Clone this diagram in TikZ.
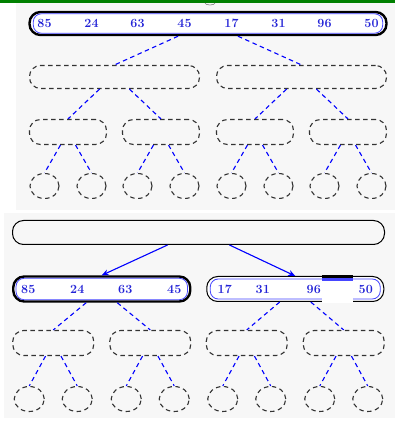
\documentclass[tikz,border=0pt]{standalone}
\usepackage{tikz}
\usetikzlibrary{trees, calc, shapes.geometric, arrows.meta}
\usepackage{xcolor}
\definecolor{numblue}{RGB}{35,35,215}
\definecolor{ringblue}{RGB}{70,70,255}
\definecolor{panelgray}{RGB}{247,247,247}
\definecolor{bargreen}{RGB}{0,128,0}
\tikzset{
    every node/.style = {inner sep=0pt},
    dashbox/.style = {draw=black!80, dash pattern=on 4.5pt off 3.5pt, line width=1.1pt, rounded corners=11pt, minimum height=23pt},
    leaf/.style = {draw=black!80, dash pattern=on 4.5pt off 3.5pt, line width=1.1pt, shape=ellipse, minimum width=29pt, minimum height=25pt},
    solidbox/.style = {draw=black, rounded corners=11pt, line width=1pt},
    ring/.style = {draw=ringblue, line width=0.8pt, rounded corners=8pt},
    num/.style = {text=numblue, font=\fontsize{12.5}{14}\selectfont\bfseries},
    dashedge/.style = {draw, color=blue, dash pattern=on 4.5pt off 3.5pt, line width=1.1pt},
    arrowedge/.style = {draw, color=blue, line width=1.1pt, -{Stealth[length=7pt, width=6pt]}},
    edge from parent path = {($(\tikzparentnode.south)!.32!(\tikzparentnode.south -| \tikzchildnode.north)$) -- (\tikzchildnode.north)}
}

\begin{document}
\begin{tikzpicture}[x=1pt, y=1pt]
    \useasboundingbox (0,0) rectangle (409,428);
    \fill[panelgray] (16,218) rectangle (395,425);
    \fill[panelgray] (4,10) rectangle (395,215);
    \fill[bargreen] (0,425) rectangle (395,428);
    \draw[black!50, line width=0.6pt] (205,425) arc[start angle=180, end angle=360, x radius=5, y radius=2];

    \begin{scope}[
        level 1/.style = {level distance=53.5pt, sibling distance=187pt, edge from parent/.style=dashedge},
        level 2/.style = {level distance=55pt, sibling distance=93pt},
        level 3/.style = {level distance=54pt, sibling distance=47pt}]
        \node[solidbox, fill=white, line width=2.4pt, minimum width=357pt, minimum height=23pt] (top) at (208,404.5) {}
            child foreach \a in {1,2} {
                node[dashbox, minimum width=170pt] {} child foreach \b in {1,2} {
                    node[dashbox, minimum width=77pt, minimum height=25pt] {} child foreach \c in {1,2} {
                        node[leaf] {}
                    }
                }
            };
    \end{scope}
    \draw[ring] ([shift={(5pt,3pt)}]top.south west) rectangle ([shift={(-5pt,-3pt)}]top.north east);
    \foreach \v/\leaf in {85/1-1-1, 24/1-1-2, 63/1-2-1, 45/1-2-2, 17/2-1-1, 31/2-1-2, 96/2-2-1, 50/2-2-2}
        \node[num] at (top-\leaf |- top) {\v};

    \begin{scope}[
        level 1/.style = {level distance=56.5pt, sibling distance=193.5pt, edge from parent/.style=arrowedge},
        level 2/.style = {level distance=54pt, sibling distance=97pt, edge from parent/.style=dashedge},
        level 3/.style = {level distance=56pt, sibling distance=48pt}]
        \node[solidbox, minimum width=372pt, minimum height=24pt] (bot) at (198.5,195.5) {}
            child foreach \w in {2.4pt, 1pt} {
                node[solidbox, fill=white, line width=\w, minimum width=177pt, minimum height=25pt] {} child foreach \b in {1,2} {
                    node[dashbox, minimum width=81pt, minimum height=25pt] {} child foreach \c in {1,2} {
                        node[leaf, minimum width=30pt] {}
                    }
                }
            };
    \end{scope}
    \foreach \n in {bot-1, bot-2}
        \draw[ring] ([shift={(4pt,3pt)}]\n.south west) rectangle ([shift={(-4pt,-3pt)}]\n.north east);
    \foreach \v/\leaf/\s in {85/1-1-1/-1, 24/1-1-2/0, 63/1-2-1/-1, 45/1-2-2/0, 17/2-1-1/2, 31/2-1-2/-8, 96/2-2-1/-6, 50/2-2-2/-2}
        \node[num, xshift=\s pt] at (bot-\leaf |- bot-1) {\v};

    \fill[white] (322,125) rectangle (353,132);
    \fill[black] (322,150) rectangle (353,153);
    \fill[ringblue] (322,147) rectangle (353,149.5);
\end{tikzpicture}
\end{document}
